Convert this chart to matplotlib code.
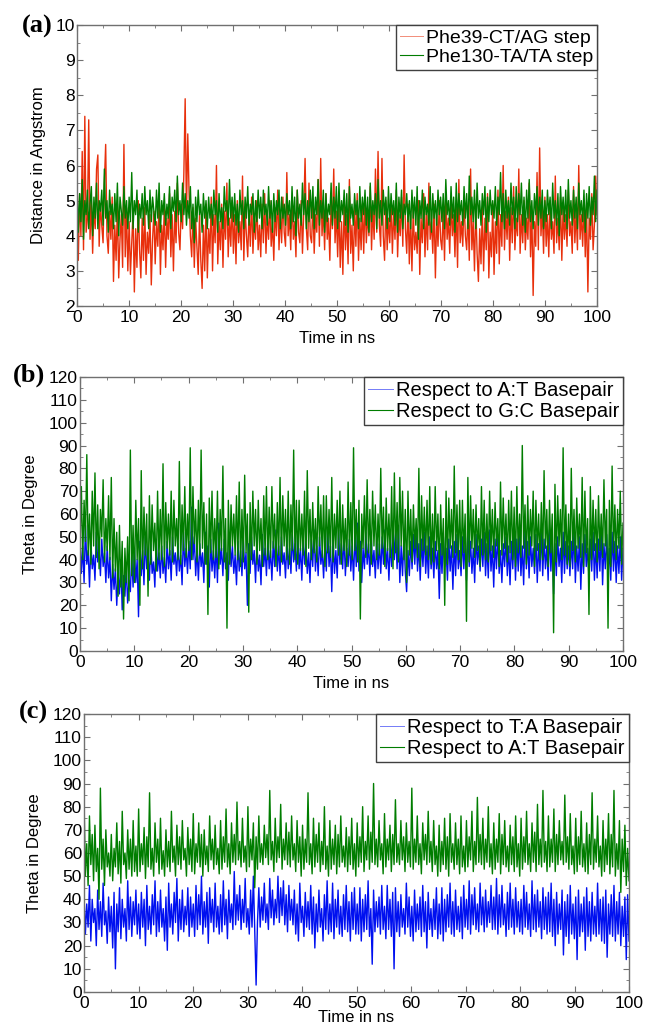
import numpy as np
import matplotlib
matplotlib.use("Agg")
import matplotlib.pyplot as plt
from matplotlib import font_manager
from matplotlib.ticker import MultipleLocator

# ---------------- data (4 samples per ns) ----------------
phe39_ct_ag = [
    4.6, 3.3, 5.2, 4.0, 6.4, 3.6, 7.4, 4.1, 4.5, 7.3, 3.9, 5.0, 3.5, 4.8, 4.2, 5.9, 6.3, 3.7, 4.9, 4.3,
    3.8, 5.5, 6.6, 4.0, 3.5, 4.7, 3.9, 5.1, 2.7, 4.3, 3.3, 4.9, 2.8, 3.9, 4.6, 3.1, 6.6, 3.4, 4.8, 3.0,
    4.4, 2.9, 3.8, 4.7, 2.4, 4.2, 3.1, 5.0, 3.6, 2.8, 4.5, 3.3, 4.8, 2.9, 4.1, 3.5, 4.6, 2.6, 3.9, 4.7,
    3.2, 4.4, 3.7, 5.0, 2.9, 4.3, 3.6, 4.8, 3.1, 4.5, 3.9, 5.2, 3.4, 4.6, 3.0, 4.7, 3.8, 5.5, 4.1, 3.6,
    4.9, 4.2, 5.8, 7.9, 4.6, 6.9, 5.2, 4.0, 3.4, 4.8, 3.1, 4.5, 3.7, 2.9, 4.6, 3.3, 2.5, 4.3, 3.0, 4.9,
    2.8, 4.2, 3.5, 5.1, 3.0, 4.6, 3.8, 6.0, 3.2, 4.4, 3.6, 4.9, 3.1, 4.7, 3.9, 5.5, 3.4, 4.5, 3.7, 5.0,
    3.5, 4.6, 3.2, 5.0, 3.8, 4.4, 3.6, 5.7, 3.3, 4.8, 4.0, 3.4, 4.7, 3.7, 5.1, 3.5, 4.5, 3.9, 5.0, 3.6,
    4.3, 3.4, 4.9, 3.8, 5.2, 3.5, 4.6, 3.9, 5.0, 3.7, 4.4, 3.3, 4.8, 4.0, 5.3, 3.6, 4.7, 3.8, 5.1, 4.1,
    3.7, 5.8, 4.0, 4.6, 3.6, 5.1, 3.9, 4.4, 3.4, 5.3, 4.1, 3.8, 5.0, 3.5, 4.7, 6.2, 4.2, 3.6, 5.5, 4.0,
    3.8, 5.0, 3.5, 4.6, 4.1, 5.6, 3.7, 6.2, 4.0, 4.8, 3.6, 5.2, 3.9, 4.5, 3.3, 5.0, 4.2, 5.9, 3.8, 4.7,
    3.4, 4.9, 3.1, 4.4, 2.9, 5.0, 3.6, 4.6, 3.2, 5.6, 3.5, 4.3, 3.0, 4.8, 3.7, 5.2, 3.3, 4.5, 3.6, 4.9,
    3.5, 5.1, 3.8, 4.6, 4.0, 5.4, 3.6, 4.8, 3.9, 5.9, 4.1, 6.4, 4.3, 3.7, 6.2, 4.0, 3.3, 5.0, 3.6, 4.5,
    3.8, 5.0, 3.5, 4.7, 3.9, 5.3, 3.4, 4.6, 4.0, 5.1, 3.7, 6.3, 4.2, 3.5, 4.9, 3.2, 4.6, 3.0, 4.8, 3.6,
    4.1, 3.5, 5.0, 2.9, 4.5, 3.8, 5.2, 3.4, 4.7, 3.6, 5.5, 3.9, 4.4, 3.5, 4.9, 2.8, 4.6, 3.7, 5.0, 3.9,
    3.6, 4.8, 3.3, 5.2, 3.9, 4.5, 3.5, 5.0, 4.0, 4.6, 3.4, 4.9, 3.1, 5.6, 3.8, 4.4, 3.7, 5.1, 4.0, 3.6,
    4.7, 3.3, 5.9, 3.6, 4.4, 3.0, 4.9, 3.5, 2.7, 4.2, 3.2, 4.8, 3.0, 4.5, 3.6, 5.2, 2.8, 4.1, 3.4, 4.9,
    2.9, 4.4, 3.5, 5.3, 3.2, 4.6, 3.7, 6.0, 3.6, 4.7, 3.9, 5.1, 3.3, 4.8, 3.8, 5.4, 3.6, 4.5, 4.0, 5.9,
    3.5, 4.6, 3.8, 5.0, 3.6, 4.5, 3.9, 5.5, 3.4, 4.7, 2.3, 4.4, 3.7, 5.8, 3.6, 6.5, 4.0, 4.8, 3.5, 5.1,
    3.7, 4.6, 3.4, 5.0, 3.9, 4.4, 3.5, 5.7, 3.8, 4.5, 3.6, 5.1, 3.3, 4.8, 3.9, 4.6, 3.7, 5.3, 4.0, 4.4,
    3.5, 5.4, 3.8, 4.7, 3.6, 6.0, 3.9, 4.6, 3.7, 5.0, 3.4, 4.8, 2.4, 4.5, 3.9, 5.2, 3.6, 4.3, 5.7, 4.6,
]
phe130_ta_ta = [
    5.5, 4.1, 5.2, 4.4, 5.6, 3.9, 5.0, 4.6, 5.3, 4.2, 4.9, 5.4, 4.0, 5.1, 4.5, 5.5, 4.2, 5.0, 4.7, 5.3,
    4.3, 5.9, 4.5, 5.0, 4.1, 5.3, 4.6, 4.9, 4.2, 5.2, 4.4, 5.5, 4.0, 5.1, 4.7, 4.3, 5.4, 4.5, 5.0, 4.2,
    5.1, 4.4, 5.8, 4.2, 5.0, 4.6, 5.3, 4.1, 4.9, 4.5, 5.2, 4.3, 5.4, 4.6, 5.0, 4.2, 5.3, 4.4, 5.1, 4.7,
    4.3, 5.3, 4.5, 5.5, 4.1, 5.0, 4.6, 5.2, 4.3, 4.9, 4.5, 5.4, 4.2, 5.1, 4.7, 5.3, 4.4, 5.7, 4.6, 5.0,
    4.4, 5.5, 4.6, 5.2, 4.3, 5.0, 4.5, 5.4, 4.2, 4.9, 3.8, 5.1, 4.4, 5.3, 4.6, 4.9, 4.1, 5.2, 4.5, 5.0,
    4.2, 5.1, 4.5, 4.9, 4.3, 5.3, 4.6, 5.0, 4.1, 5.2, 4.4, 4.8, 4.2, 5.4, 4.7, 5.0, 4.3, 5.6, 4.5, 5.1,
    4.4, 5.2, 4.3, 4.9, 4.1, 5.3, 4.6, 5.0, 4.2, 5.1, 4.5, 5.4, 4.3, 4.9, 4.6, 5.2, 4.1, 5.0, 4.4, 5.3,
    4.5, 5.1, 4.2, 5.3, 4.6, 4.9, 4.3, 5.4, 4.5, 5.0, 4.1, 5.2, 4.4, 5.0, 4.6, 5.3, 4.2, 5.1, 4.5, 4.9,
    4.3, 5.2, 4.6, 5.0, 4.2, 5.4, 4.4, 5.1, 4.0, 5.3, 4.5, 4.9, 4.3, 5.5, 4.6, 5.2, 4.2, 5.0, 4.4, 5.3,
    4.5, 5.4, 4.2, 5.1, 4.6, 5.6, 4.3, 5.0, 4.5, 5.3, 4.1, 5.2, 4.4, 4.9, 4.6, 5.5, 4.3, 5.1, 4.5, 5.4,
    4.2, 5.5, 4.4, 5.0, 4.6, 5.3, 4.3, 5.2, 4.1, 5.4, 4.5, 4.9, 4.3, 5.2, 4.6, 5.0, 4.2, 5.4, 4.4, 5.1,
    4.6, 5.3, 4.3, 5.1, 4.1, 5.5, 4.4, 5.0, 4.6, 5.2, 4.2, 5.6, 4.5, 5.0, 4.3, 5.3, 4.6, 5.1, 4.2, 5.4,
    4.4, 5.2, 4.6, 5.0, 4.3, 5.5, 4.1, 5.1, 4.5, 5.3, 4.2, 4.9, 4.6, 5.2, 4.4, 5.0, 4.2, 5.3, 4.5, 5.1,
    4.3, 5.4, 3.9, 5.0, 4.5, 5.3, 4.2, 5.1, 4.6, 4.9, 4.3, 5.4, 4.1, 5.2, 4.5, 5.0, 4.3, 5.3, 4.6, 5.1,
    4.4, 5.2, 4.2, 5.6, 4.6, 5.0, 4.3, 5.4, 4.5, 5.1, 4.1, 5.5, 4.4, 5.2, 4.6, 5.0, 4.3, 5.4, 4.5, 5.2,
    4.2, 5.7, 4.6, 5.1, 4.4, 5.3, 4.2, 5.5, 4.5, 5.0, 4.3, 5.2, 4.6, 5.4, 4.1, 5.1, 4.4, 5.3, 4.6, 5.0,
    4.5, 5.4, 4.3, 5.1, 4.6, 5.8, 4.4, 5.2, 4.2, 5.3, 4.5, 5.0, 4.3, 5.5, 4.6, 5.1, 4.2, 5.4, 4.4, 5.2,
    4.6, 5.5, 4.3, 5.1, 4.1, 5.3, 4.5, 5.6, 4.4, 5.0, 4.2, 5.2, 4.6, 5.4, 4.3, 5.1, 4.5, 5.3, 4.2, 5.0,
    4.4, 5.3, 4.6, 5.1, 4.2, 5.5, 4.5, 5.0, 4.3, 5.2, 4.0, 5.4, 4.6, 5.1, 4.4, 5.3, 4.2, 5.6, 4.5, 5.0,
    4.3, 5.3, 4.5, 5.1, 4.2, 5.5, 4.6, 5.0, 4.4, 5.3, 4.1, 5.2, 4.5, 5.4, 4.3, 5.1, 4.6, 5.7, 4.4, 5.3,
]
b_resp_AT = [
    50, 34, 46, 30, 55, 38, 44, 28, 48, 36, 42, 31, 52, 39, 45, 33, 49, 37, 43, 30,
    46, 32, 41, 22, 38, 27, 36, 20, 34, 25, 40, 18, 33, 24, 37, 21, 31, 26, 42, 28,
    45, 30, 40, 15, 48, 33, 44, 29, 50, 36, 42, 31, 47, 34, 39, 28, 49, 35, 43, 32,
    46, 34, 41, 30, 48, 36, 44, 31, 50, 38, 43, 33, 47, 35, 42, 29, 52, 37, 45, 34,
    48, 36, 63, 40, 50, 33, 45, 31, 47, 37, 43, 30, 52, 38, 46, 28, 49, 35, 44, 32,
    47, 30, 56, 38, 45, 33, 49, 36, 43, 31, 51, 37, 46, 34, 42, 29, 48, 35, 44, 33,
    49, 36, 43, 20, 47, 34, 50, 38, 44, 30, 48, 35, 42, 29, 51, 37, 45, 33, 49, 36,
    44, 31, 48, 37, 53, 35, 46, 33, 50, 38, 43, 32, 49, 36, 45, 34, 51, 39, 47, 35,
    52, 36, 45, 31, 50, 38, 47, 34, 43, 30, 49, 37, 53, 35, 46, 33, 50, 38, 44, 32,
    48, 35, 54, 37, 46, 26, 50, 34, 44, 32, 53, 38, 47, 36, 51, 33, 45, 37, 49, 35,
    46, 31, 51, 37, 56, 35, 48, 30, 45, 36, 52, 38, 47, 33, 50, 37, 44, 32, 49, 36,
    47, 34, 50, 38, 53, 36, 45, 31, 48, 37, 57, 40, 52, 36, 55, 30, 46, 33, 50, 35,
    26, 44, 33, 48, 36, 51, 38, 53, 35, 47, 31, 49, 37, 52, 34, 46, 32, 50, 36, 45,
    32, 48, 36, 44, 23, 47, 34, 50, 37, 45, 31, 49, 35, 46, 27, 48, 33, 51, 36, 44,
    33, 50, 36, 47, 31, 53, 37, 48, 34, 45, 30, 51, 38, 46, 35, 49, 37, 52, 33, 47,
    32, 53, 35, 46, 28, 49, 36, 51, 34, 44, 30, 47, 37, 50, 33, 46, 29, 48, 36, 52,
    31, 49, 35, 52, 33, 46, 29, 54, 36, 48, 32, 50, 37, 45, 34, 51, 30, 47, 35, 53,
    33, 49, 36, 46, 31, 53, 35, 48, 25, 47, 33, 50, 37, 45, 30, 52, 34, 48, 36, 46,
    33, 48, 36, 53, 30, 46, 35, 50, 27, 47, 34, 51, 37, 45, 32, 49, 35, 52, 31, 47,
    32, 49, 35, 53, 29, 47, 36, 51, 33, 45, 31, 52, 35, 48, 30, 46, 34, 50, 31, 45,
]
b_resp_GC = [
    45, 72, 40, 66, 48, 86, 42, 60, 38, 70, 46, 78, 41, 64, 36, 62, 50, 75, 39, 58,
    44, 68, 40, 76, 32, 58, 35, 52, 24, 55, 28, 48, 14, 45, 30, 50, 22, 88, 33, 55,
    30, 66, 40, 58, 20, 79, 36, 63, 42, 60, 24, 68, 38, 64, 44, 56, 35, 70, 40, 62,
    40, 82, 37, 65, 45, 60, 42, 70, 39, 66, 46, 58, 40, 83, 38, 64, 44, 72, 41, 60,
    44, 89, 40, 72, 47, 62, 39, 66, 42, 88, 45, 65, 38, 60, 16, 67, 43, 70, 40, 58,
    41, 70, 36, 62, 44, 81, 39, 58, 10, 66, 38, 64, 46, 60, 42, 68, 40, 74, 37, 62,
    39, 77, 43, 60, 17, 65, 40, 70, 46, 62, 38, 66, 44, 58, 37, 68, 42, 72, 40, 63,
    41, 72, 45, 60, 37, 65, 42, 76, 39, 68, 46, 62, 40, 70, 38, 64, 44, 88, 40, 66,
    38, 66, 44, 60, 42, 70, 37, 79, 45, 62, 40, 65, 43, 58, 39, 72, 46, 64, 41, 68,
    37, 68, 43, 62, 41, 76, 39, 60, 45, 66, 42, 70, 38, 64, 44, 58, 37, 74, 42, 65,
    40, 89, 44, 62, 39, 66, 14, 60, 45, 68, 41, 75, 43, 62, 38, 70, 46, 64, 40, 60,
    42, 80, 45, 63, 37, 67, 44, 60, 41, 72, 36, 78, 43, 65, 39, 76, 46, 70, 40, 62,
    30, 70, 42, 62, 39, 64, 45, 58, 41, 80, 37, 68, 44, 63, 42, 66, 40, 72, 38, 60,
    39, 72, 44, 60, 36, 64, 42, 58, 20, 70, 38, 67, 45, 62, 41, 81, 43, 64, 40, 66,
    37, 66, 43, 60, 13, 76, 39, 68, 45, 62, 41, 64, 44, 58, 37, 72, 42, 66, 40, 60,
    39, 70, 44, 62, 41, 65, 46, 58, 37, 74, 42, 67, 45, 60, 39, 66, 43, 70, 40, 63,
    37, 72, 43, 60, 41, 90, 45, 64, 38, 68, 42, 62, 46, 70, 37, 66, 44, 60, 40, 65,
    40, 79, 45, 62, 37, 66, 43, 60, 8, 73, 39, 68, 46, 62, 40, 89, 42, 64, 38, 60,
    37, 80, 44, 62, 39, 67, 45, 60, 41, 76, 37, 70, 43, 58, 16, 72, 40, 66, 44, 62,
    39, 68, 44, 60, 41, 75, 46, 62, 10, 66, 37, 81, 43, 64, 40, 62, 45, 70, 38, 56,
]
c_resp_TA = [
    42, 25, 38, 28, 46, 22, 40, 30, 36, 20, 44, 27, 39, 24, 47, 29, 35, 21, 41, 26,
    37, 19, 43, 10, 38, 26, 45, 23, 40, 28, 36, 22, 48, 27, 41, 24, 39, 29, 44, 25,
    38, 23, 43, 28, 40, 20, 46, 27, 37, 25, 42, 29, 48, 24, 39, 26, 44, 28, 36, 22,
    41, 18, 47, 28, 38, 25, 43, 30, 49, 22, 40, 27, 44, 26, 37, 29, 45, 24, 41, 28,
    38, 24, 46, 27, 42, 29, 50, 25, 39, 28, 43, 21, 45, 30, 40, 26, 47, 28, 37, 25,
    42, 26, 48, 29, 40, 23, 44, 30, 38, 27, 52, 29, 42, 31, 46, 27, 40, 30, 49, 28,
    36, 25, 44, 28, 50, 26, 3, 30, 45, 28, 41, 31, 47, 30, 38, 27, 49, 32, 44, 29,
    40, 32, 50, 30, 45, 33, 48, 29, 42, 26, 46, 31, 40, 29, 44, 25, 38, 22, 47, 30,
    37, 24, 43, 28, 39, 27, 46, 25, 41, 19, 38, 26, 44, 28, 36, 22, 42, 27, 48, 25,
    38, 26, 47, 23, 40, 28, 44, 25, 37, 24, 42, 27, 46, 26, 39, 22, 43, 27, 45, 25,
    38, 25, 45, 22, 40, 26, 42, 27, 48, 24, 36, 12, 44, 26, 39, 28, 41, 25, 46, 27,
    37, 23, 46, 27, 40, 24, 43, 10, 45, 26, 39, 24, 42, 28, 36, 25, 47, 28, 41, 24,
    37, 22, 44, 26, 38, 27, 41, 24, 46, 26, 39, 19, 43, 27, 36, 24, 40, 27, 45, 23,
    38, 25, 45, 22, 40, 26, 42, 28, 47, 25, 39, 24, 44, 27, 37, 26, 41, 23, 46, 28,
    40, 27, 48, 25, 42, 29, 45, 27, 38, 26, 47, 29, 41, 26, 44, 28, 39, 30, 46, 27,
    41, 27, 49, 25, 42, 28, 46, 29, 38, 24, 43, 27, 47, 28, 40, 25, 45, 28, 39, 26,
    40, 25, 46, 28, 43, 27, 38, 24, 48, 27, 42, 26, 44, 28, 39, 23, 45, 27, 41, 25,
    43, 26, 47, 24, 40, 20, 43, 25, 38, 27, 44, 16, 39, 24, 42, 21, 46, 25, 38, 23,
    41, 14, 44, 24, 38, 26, 41, 18, 45, 24, 39, 22, 43, 25, 37, 24, 47, 25, 40, 22,
    41, 21, 44, 15, 38, 25, 42, 24, 46, 22, 39, 25, 43, 20, 37, 24, 41, 14, 42, 22,
]
c_resp_AT = [
    84, 50, 64, 46, 76, 55, 68, 48, 72, 52, 62, 40, 88, 53, 66, 46, 70, 54, 60, 50,
    68, 48, 62, 54, 73, 51, 65, 47, 78, 55, 60, 49, 70, 53, 66, 50, 74, 52, 63, 50,
    79, 52, 64, 55, 71, 49, 67, 54, 86, 53, 62, 50, 73, 56, 66, 51, 75, 53, 61, 50,
    70, 54, 65, 52, 78, 56, 63, 50, 72, 55, 67, 53, 74, 57, 62, 50, 71, 55, 66, 52,
    77, 51, 64, 56, 73, 54, 68, 50, 70, 55, 63, 52, 76, 57, 66, 53, 72, 55, 62, 51,
    74, 53, 67, 56, 79, 54, 64, 51, 73, 56, 68, 55, 82, 57, 65, 54, 75, 56, 63, 52,
    80, 54, 66, 57, 73, 45, 67, 53, 76, 56, 64, 55, 72, 58, 68, 55, 87, 57, 65, 52,
    75, 56, 67, 58, 81, 53, 66, 57, 73, 55, 69, 54, 76, 57, 64, 52, 74, 56, 67, 50,
    72, 53, 66, 56, 86, 55, 64, 51, 75, 54, 68, 56, 73, 52, 65, 55, 80, 53, 63, 50,
    74, 53, 66, 55, 72, 51, 68, 54, 76, 56, 63, 54, 71, 52, 67, 55, 75, 53, 64, 50,
    73, 54, 67, 56, 80, 52, 65, 57, 76, 53, 69, 56, 90, 55, 66, 54, 74, 57, 64, 51,
    77, 54, 66, 57, 72, 52, 68, 55, 83, 56, 64, 55, 74, 57, 67, 52, 73, 56, 65, 54,
    88, 53, 66, 56, 76, 55, 64, 51, 73, 57, 68, 55, 78, 56, 65, 52, 74, 55, 63, 50,
    72, 52, 65, 55, 75, 53, 67, 50, 77, 56, 64, 53, 73, 55, 66, 51, 76, 54, 63, 52,
    74, 54, 67, 57, 78, 52, 65, 55, 84, 56, 68, 55, 75, 53, 66, 56, 80, 54, 64, 51,
    73, 53, 66, 56, 77, 51, 68, 55, 74, 54, 63, 52, 72, 55, 67, 52, 76, 54, 64, 50,
    75, 53, 67, 56, 78, 55, 64, 52, 73, 56, 69, 52, 81, 55, 66, 54, 87, 56, 65, 52,
    76, 54, 66, 56, 79, 52, 68, 55, 74, 57, 65, 55, 85, 56, 67, 53, 77, 55, 63, 51,
    75, 52, 67, 55, 78, 54, 64, 52, 73, 51, 68, 55, 86, 53, 66, 56, 76, 54, 63, 50,
    74, 52, 66, 55, 77, 51, 68, 54, 87, 50, 64, 53, 74, 43, 66, 52, 72, 46, 62, 48,
]
time_ns = np.linspace(0, 100, len(phe39_ct_ag))

labels_a = ["Phe39-CT/AG step", "Phe130-TA/TA step"]
labels_b = ["Respect to A:T Basepair", "Respect to G:C Basepair"]
labels_c = ["Respect to T:A Basepair", "Respect to A:T Basepair"]
x_label = "Time in ns"
y_label_a = "Distance in Angstrom"
y_label_bc = "Theta in Degree"

# ---------------- style ----------------
avail = {f.name for f in font_manager.fontManager.ttflist}
sans = "Liberation Sans" if "Liberation Sans" in avail else "DejaVu Sans"
narrow = "Liberation Sans Narrow" if "Liberation Sans Narrow" in avail else sans
serif = "Liberation Serif" if "Liberation Serif" in avail else "DejaVu Serif"
plt.rcParams["font.family"] = [sans, "DejaVu Sans"]

RED = "#e8300c"
GREEN = "#007d00"
BLUE = "#0010f0"
FRAME = "#707070"
LW = 1.0

W, H = 648, 1028
fig = plt.figure(figsize=(W / 100, H / 100), dpi=100)


def px_axes(l, t, r, b):
    return fig.add_axes([l / W, 1 - b / H, (r - l) / W, (b - t) / H])


def style(ax, ymin, ymax, ymaj, ymin_step, xpad):
    ax.set_xlim(0, 100)
    ax.set_ylim(ymin, ymax)
    ax.xaxis.set_major_locator(MultipleLocator(10))
    ax.xaxis.set_minor_locator(MultipleLocator(5))
    ax.yaxis.set_major_locator(MultipleLocator(ymaj))
    ax.yaxis.set_minor_locator(MultipleLocator(ymin_step))
    ax.tick_params(which="both", direction="in", top=True, right=True,
                   color=FRAME, labelsize=12.5, pad=1.5)
    ax.tick_params(axis="x", which="major", pad=3)
    ax.tick_params(which="major", length=4)
    ax.tick_params(which="minor", length=2.5)
    for s in ax.spines.values():
        s.set_color(FRAME)
        s.set_linewidth(1.0)
    ax.set_xlabel(x_label, fontsize=12, family=narrow, labelpad=xpad)


def legend(ax, fs):
    leg = ax.legend(loc="upper right", borderaxespad=0, fancybox=False,
                    fontsize=fs, handlelength=1.2, handletextpad=0.15,
                    borderpad=0.2, labelspacing=0.1, framealpha=1)
    leg.get_frame().set_edgecolor("#404040")
    leg.get_frame().set_linewidth(1.0)
    lines = leg.get_lines()
    lines[0].set_linewidth(0.7)
    lines[0].set_alpha(0.55)
    lines[1].set_linewidth(0.8)
    return leg


# panel (a)
ax_a = px_axes(77, 25, 597, 306)
ax_a.plot(time_ns, phe39_ct_ag, color=RED, lw=LW, label=labels_a[0])
ax_a.plot(time_ns, phe130_ta_ta, color=GREEN, lw=LW, label=labels_a[1])
style(ax_a, 2, 10, 1, 0.5, 4)
ax_a.set_ylabel(y_label_a, fontsize=12, family=narrow, labelpad=7)
legend(ax_a, 14)

# panel (b)
ax_b = px_axes(80, 377, 623, 651)
ax_b.plot(time_ns, b_resp_AT, color=BLUE, lw=LW, label=labels_b[0])
ax_b.plot(time_ns, b_resp_GC, color=GREEN, lw=LW, label=labels_b[1])
style(ax_b, 0, 120, 10, 5, 4)
ax_b.set_ylabel(y_label_bc, fontsize=12, family=narrow, labelpad=8)
legend(ax_b, 14.5)

# panel (c)
ax_c = px_axes(84, 714, 629, 992)
ax_c.plot(time_ns, c_resp_TA, color=BLUE, lw=LW, label=labels_c[0])
ax_c.plot(time_ns, c_resp_AT, color=GREEN, lw=LW, label=labels_c[1])
style(ax_c, 0, 120, 10, 5, -1)
ax_c.set_ylabel(y_label_bc, fontsize=12, family=narrow, labelpad=8)
legend(ax_c, 14.5)

# panel letters
for txt, xr, yb in [("(a)", 53, 33), ("(b)", 45, 382), ("(c)", 48, 719)]:
    fig.text(xr / W, 1 - yb / H, txt, ha="right", va="baseline",
             fontsize=19, fontweight="bold", family=serif)

fig.savefig("out.png", dpi=100)
